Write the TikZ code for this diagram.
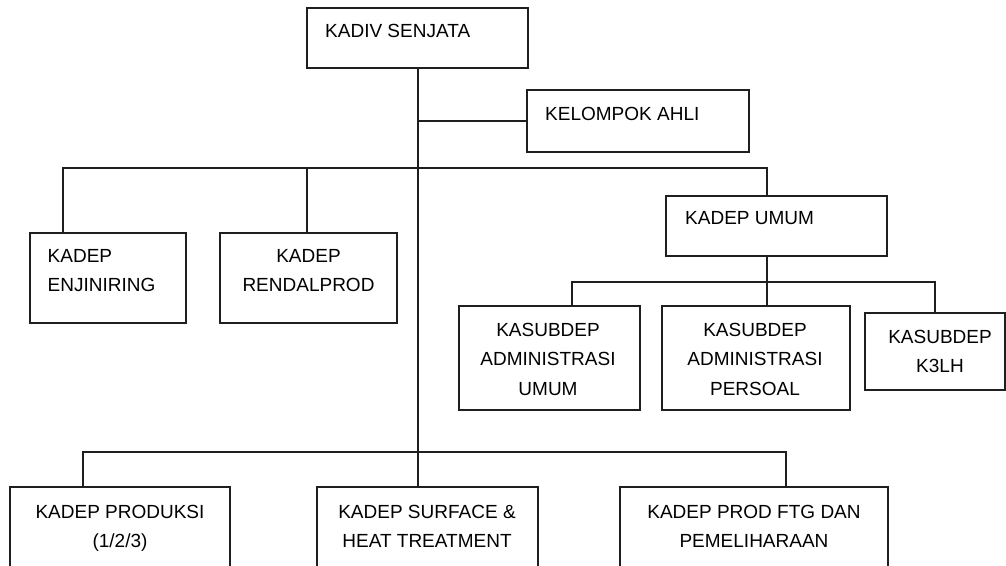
\documentclass[tikz,border=0pt]{standalone}
\usepackage{fontspec}
\setmainfont{Liberation Sans}
\definecolor{garis}{gray}{0.12}

\begin{document}
\begin{tikzpicture}[x=1pt,y=-1pt,
	kotak/.style={draw=garis,line width=1.2pt,inner sep=0pt},
	teks/.style={inner sep=0pt,font=\fontsize{19}{29.5}\selectfont},
	hubung/.style={draw=garis,line width=1.3pt}]
	\clip (0,0) rectangle (1006,565);
	% kotak jabatan
	\node[kotak,minimum width=221,minimum height=60] (kadiv) at (417.5,38) {};
	\node[kotak,minimum width=222,minimum height=62] (ahli) at (638,121) {};
	\node[kotak,minimum width=156,minimum height=90] (enj) at (108,278) {};
	\node[kotak,minimum width=177,minimum height=90] (rendal) at (308.5,278) {};
	\node[kotak,minimum width=221,minimum height=60] (umum) at (776.5,226) {};
	\node[kotak,minimum width=181,minimum height=104] (admU) at (549.5,358) {};
	\node[kotak,minimum width=188,minimum height=104] (admP) at (756,358) {};
	\node[kotak,minimum width=140,minimum height=77] (k3lh) at (935,351.5) {};
	\node[kotak,minimum width=220,minimum height=113] (prod) at (120,543.5) {};
	\node[kotak,minimum width=221,minimum height=113] (surf) at (427.5,543.5) {};
	\node[kotak,minimum width=268,minimum height=113] (ftg) at (754,543.5) {};
	% tulisan
	\node[teks,anchor=west] (kadivT) at (325,31) {KADIV SENJATA};
	\node[teks,anchor=west] (ahliT) at (545,114) {KELOMPOK AHLI};
	\node[teks,anchor=west] (umumT) at (685,218) {KADEP UMUM};
	\node[teks,anchor=north west,align=left] (enjT) at (47.5,249) {KADEP\\ENJINIRING};
	\node[teks,anchor=north,align=center] (rendalT) at (308.5,249) {KADEP\\RENDALPROD};
	\node[teks,anchor=north,align=center] (admUT) at (548,323) {KASUBDEP\\ADMINISTRASI\\UMUM};
	\node[teks,anchor=north,align=center] (admPT) at (755,323) {KASUBDEP\\ADMINISTRASI\\PERSOAL};
	\node[teks,anchor=north,align=center] (k3lhT) at (940,330) {KASUBDEP\\K3LH};
	\node[teks,anchor=north,align=center] (prodT) at (120,505) {KADEP PRODUKSI\\(1/2/3)};
	\node[teks,anchor=north,align=center] (surfT) at (427,505) {KADEP SURFACE \&\\HEAT TREATMENT};
	\node[teks,anchor=north,align=center] (ftgT) at (754,505) {KADEP PROD FTG DAN\\PEMELIHARAAN};
	% garis hubung
	\coordinate (bt) at (0,168);
	\coordinate (bu) at (0,282);
	\coordinate (bb) at (0,452);
	\draw[hubung] ([xshift=0.5pt]kadiv.south) -- ([xshift=0.5pt]kadiv.south |- surf.north);
	\draw[hubung] ([xshift=0.5pt]kadiv.south |- ahli.west) -- (ahli.west);
	\draw[hubung] ([xshift=-45pt]enj.north) |- ([xshift=-9.5pt]umum.north |- bt) -- ([xshift=-9.5pt]umum.north);
	\draw[hubung] ([xshift=-1.5pt]rendal.north) -- ([xshift=-1.5pt]rendal.north |- bt);
	\draw[hubung] ([xshift=-9.5pt]umum.south) -- ([xshift=11pt]admP.north);
	\draw[hubung] ([xshift=22.5pt]admU.north) |- (k3lh.north |- bu) -- (k3lh.north);
	\draw[hubung] ([xshift=-37pt]prod.north) |- ([xshift=32pt]ftg.north |- bb) -- ([xshift=32pt]ftg.north);
\end{tikzpicture}
\end{document}
